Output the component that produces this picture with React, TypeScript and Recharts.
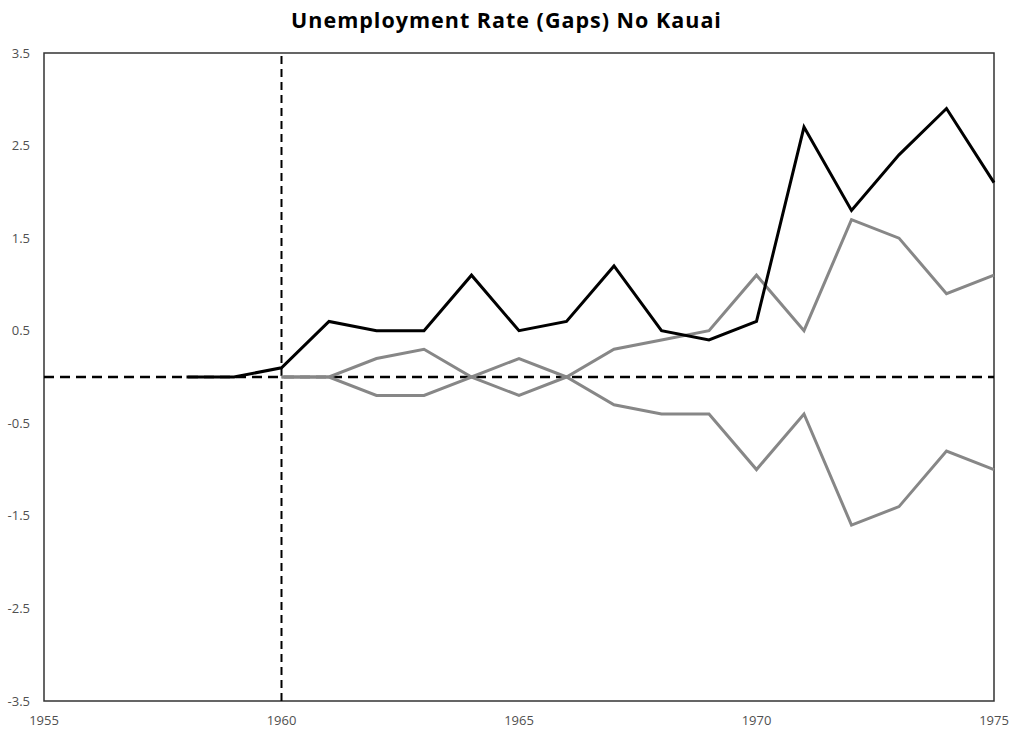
import { LineChart, Line, XAxis, YAxis, ReferenceLine, ReferenceArea } from "recharts";

const years = [1958, 1959, 1960, 1961, 1962, 1963, 1964, 1965, 1966, 1967, 1968, 1969, 1970, 1971, 1972, 1973, 1974, 1975];
const gap = [0, 0, 0.1, 0.6, 0.5, 0.5, 1.1, 0.5, 0.6, 1.2, 0.5, 0.4, 0.6, 2.7, 1.8, 2.4, 2.9, 2.1];
const upper = [null, null, 0, 0, 0.2, 0.3, 0, 0.2, 0, 0.3, 0.4, 0.5, 1.1, 0.5, 1.7, 1.5, 0.9, 1.1];
const lower = [null, null, 0, 0, -0.2, -0.2, 0, -0.2, 0, -0.3, -0.4, -0.4, -1.0, -0.4, -1.6, -1.4, -0.8, -1.0];
const xTicks = [1955, 1960, 1965, 1970, 1975];
const yTicks = [-3.5, -2.5, -1.5, -0.5, 0.5, 1.5, 2.5, 3.5];

const data = years.map((year, i) => ({ year, gap: gap[i], upper: upper[i], lower: lower[i] }));

const tickStyle = { fontSize: 13, fill: "#505050", fontFamily: "Open Sans, sans-serif" };

export default function App() {
  return (
    <div style={{ position: "absolute", left: 0, top: 0, width: 1013, height: 732, background: "#fff" }}>
      <div
        style={{
          position: "absolute",
          top: 5,
          left: 0,
          width: 1013,
          textAlign: "center",
          fontFamily: "Open Sans, sans-serif",
          fontWeight: 700,
          fontSize: 21.5,
          letterSpacing: 1,
          color: "#000",
        }}
      >
        Unemployment Rate (Gaps) No Kauai
      </div>
      <LineChart width={1013} height={732} data={data} margin={{ top: 53, right: 19, left: 0, bottom: 0 }}>
        <XAxis
          dataKey="year"
          type="number"
          domain={[1955, 1975]}
          ticks={xTicks}
          axisLine={false}
          tickLine={false}
          tick={tickStyle}
          fontSize={13}
          height={31}
          tickMargin={9}
        />
        <YAxis
          type="number"
          domain={[-3.5, 3.5]}
          ticks={yTicks}
          axisLine={false}
          tickLine={false}
          tick={tickStyle}
          fontSize={13}
          width={44}
          tickMargin={8}
          tickFormatter={(v) => String(v)}
        />
        <ReferenceArea x1={1955} x2={1975} y1={-3.5} y2={3.5} fill="none" stroke="#333" strokeWidth={1.5} ifOverflow="visible" />
        <ReferenceLine y={0} stroke="#000" strokeWidth={2.5} strokeDasharray="10 6" />
        <ReferenceLine x={1960} stroke="#000" strokeWidth={2} strokeDasharray="8 5" />
        <Line dataKey="upper" stroke="#878787" strokeWidth={3} dot={false} isAnimationActive={false} connectNulls={false} />
        <Line dataKey="lower" stroke="#878787" strokeWidth={3} dot={false} isAnimationActive={false} connectNulls={false} />
        <Line dataKey="gap" stroke="#000" strokeWidth={3} dot={false} isAnimationActive={false} />
      </LineChart>
    </div>
  );
}
